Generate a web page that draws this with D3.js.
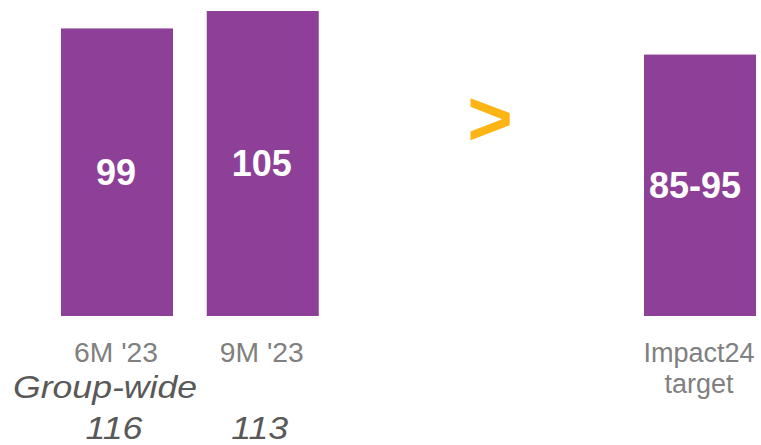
<!DOCTYPE html>
<html lang="en">
<head>
    <meta charset="UTF-8">
    <title>Impact24 bars</title>
    <script src="https://d3js.org/d3.v7.min.js"></script>
    <style>
        body { margin: 0; background: #fff; }
        svg { display: block; }
        text { font-family: 'Liberation Sans', Arial, sans-serif; }
    </style>
</head>
<body>
<div id="chart"></div>
<script>
    // data
    const categories = ["6M '23", "9M '23", "Impact24 target"];
    const slots = [0, 1, 4];           // slot position of each bar
    const values = [99, 105, 90];      // target drawn at midpoint of 85-95
    const valueLabels = ["99", "105", "85-95"];
    const groupWideLabel = "Group-wide";
    const groupWide = [116, 113];

    const width = 761, height = 445;
    const purple = "#8e3f97";

    const svg = d3.select("#chart").append("svg")
        .attr("width", width)
        .attr("height", height);

    // scales
    const x = d3.scaleLinear().domain([0, 4]).range([61, 644]);
    const barW = 112;
    const y = d3.scaleLinear().domain([0, 105]).range([316, 11]);

    const bars = svg.selectAll(".bar")
        .data(values)
        .enter().append("g")
        .attr("class", "bar");

    bars.append("rect")
        .attr("x", (d, i) => x(slots[i]))
        .attr("y", d => y(d))
        .attr("width", barW)
        .attr("height", d => y(0) - y(d))
        .attr("fill", purple);

    // value labels, centred in the bar
    bars.append("text")
        .attr("x", (d, i) => x(slots[i]) + barW / 2 - (i == 2 ? 5 : 1))
        .attr("y", d => (y(d) + y(0)) / 2)
        .attr("dy", "0.36em")
        .attr("text-anchor", "middle")
        .attr("fill", "#fff")
        .style("font-weight", "bold")
        .style("font-size", "36px")
        .text((d, i) => valueLabels[i]);

    // category labels
    svg.selectAll(".cat")
        .data(categories)
        .enter().append("text")
        .attr("class", "cat")
        .attr("text-anchor", "middle")
        .attr("fill", "#808080")
        .style("font-size", "27px")
        .attr("transform", (d, i) => `translate(${x(slots[i]) + barW / 2 - 1},362)`)
        .each(function (d) {
            let lines = d == "Impact24 target" ? ["Impact24", "target"] : [d];
            let sel = d3.select(this).selectAll("tspan")
                .data(lines)
                .enter().append("tspan")
                .attr("x", 0)
                .attr("dy", (l, j) => j == 0 ? 0 : 31)
                .text(l => l);
            if (lines.length == 1) {
                sel.attr("textLength", 84).attr("lengthAdjust", "spacingAndGlyphs");
            }
        });

    // group-wide
    svg.append("text")
        .attr("x", 13)
        .attr("y", 398)
        .attr("fill", "#595959")
        .style("font-style", "italic")
        .style("font-size", "32px")
        .attr("textLength", 184)
        .attr("lengthAdjust", "spacingAndGlyphs")
        .text(groupWideLabel);

    svg.selectAll(".gw")
        .data(groupWide)
        .enter().append("text")
        .attr("class", "gw")
        .attr("x", (d, i) => x(slots[i]) + barW / 2 - 3)
        .attr("y", 439)
        .attr("text-anchor", "middle")
        .attr("fill", "#595959")
        .style("font-style", "italic")
        .style("font-size", "31px")
        .attr("textLength", 57)
        .attr("lengthAdjust", "spacingAndGlyphs")
        .text(d => d);

    // chevron
    svg.append("text")
        .attr("x", x(2.56) + barW / 2)
        .attr("y", 145)
        .attr("text-anchor", "middle")
        .attr("fill", "#fdb515")
        .style("font-weight", "bold")
        .style("font-size", "78px")
        .text(">");
</script>
</body>
</html>
